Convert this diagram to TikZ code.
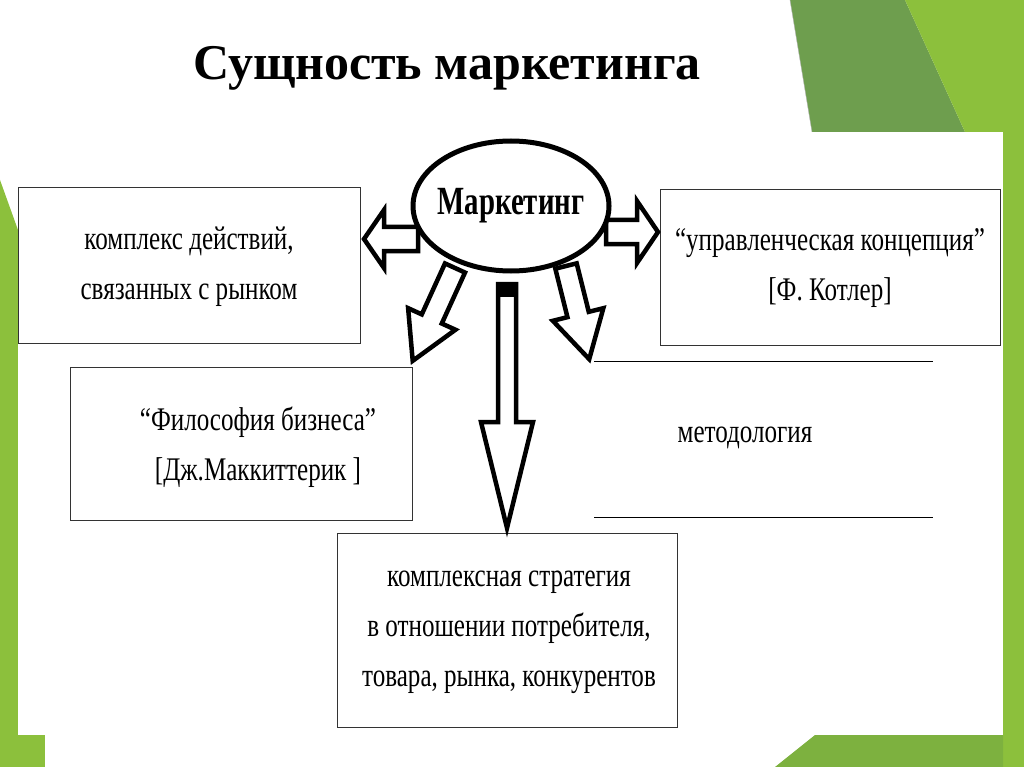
\documentclass[tikz,border=0pt]{standalone}
\usepackage{fontspec}
\setmainfont{Liberation Serif}
\usetikzlibrary{shapes.geometric}
\definecolor{gA}{HTML}{6E9E4E}
\definecolor{gB}{HTML}{8CC03C}
\definecolor{gC}{HTML}{7DB13F}
\newcommand\narrowtxt[1]{\scalebox{0.76}[1]{#1}}
\newcommand\blockarr[7]{%
  \draw[line width=4.5pt,line join=miter,fill=white,shift={(#1,#2)},rotate=#3]
   (0,-#5/2) -- (#4-#7,-#5/2) -- (#4-#7,-#6/2) -- (#4,0) -- (#4-#7,#6/2) -- (#4-#7,#5/2) -- (0,#5/2) -- cycle;}
\begin{document}
\begin{tikzpicture}[x=1pt,y=-1pt,
  boxx/.style={draw=black!80,line width=1pt,fill=white,inner sep=0},
  txt/.style={font=\fontsize{33}{50}\selectfont,align=center}]
\useasboundingbox (0,0) rectangle (1024,767);
\fill[white] (0,0) rectangle (1024,767);
% green decoration
\fill[gA] (790,0) -- (905,0) -- (965,132) -- (812,132) -- cycle;
\fill[gB] (905,0) -- (1024,0) -- (1024,767) -- (1003,767) -- (1003,132) -- (965,132) -- cycle;
\fill[gC] (775,767) -- (815,735) -- (1003,735) -- (1003,767) -- cycle;
\fill[gB] (0,180) -- (18,230) -- (18,735) -- (0,735) -- cycle;
\fill[gB] (0,735) rectangle (45,767);
\draw[black!30] (790,0) -- (812,132);
% white panel
\fill[white] (18,132) rectangle (1003,735);
% title
\node (title) at (447,68) {\fontsize{50}{56}\selectfont\bfseries Сущность маркетинга};
% boxes
\draw[boxx] (18,188) rectangle (360,343);
\node[txt] (b1) at (189,267) {\narrowtxt{комплекс действий,}\\\narrowtxt{связанных с рынком}};
\draw[boxx] (660,190) rectangle (1000,345);
\node[txt] (b2) at (830,268) {\narrowtxt{“управленческая концепция”}\\\narrowtxt{[Ф. Котлер]}};
\draw[boxx] (70,367) rectangle (412,520);
\node[txt] (b3) at (258,447) {\narrowtxt{“Философия бизнеса”}\\\narrowtxt{[Дж.Маккиттерик ]}};
\draw[line width=1pt] (594,361) -- (933,361);
\draw[line width=1pt] (594,517) -- (933,517);
\node[txt] (b5) at (745,438) {\narrowtxt{методология}};
\draw[boxx] (337,533) rectangle (677,727);
\node[txt] (b4) at (509,632) {\narrowtxt{комплексная стратегия}\\\narrowtxt{в отношении потребителя,}\\\narrowtxt{товара, рынка, конкурентов}};
% arrows
\blockarr{418}{239}{180}{54}{24}{58}{20}
\blockarr{606}{232}{0}{52}{24}{62}{21}
\blockarr{455}{268}{245.5}{102}{22}{52}{46}
\blockarr{566}{266}{-76}{96}{22}{52}{46}
\blockarr{507}{284}{-90}{244}{18}{52}{106}
\fill (497,282) rectangle (517,297);
% ellipse
\node[ellipse,draw,line width=5pt,fill=white,minimum width=196pt,minimum height=130pt] (m) at (511,206) {};
\node[font=\fontsize{40}{44}\selectfont\bfseries] at (m) {\scalebox{0.72}[1]{Маркетинг}};
\end{tikzpicture}
\end{document}
